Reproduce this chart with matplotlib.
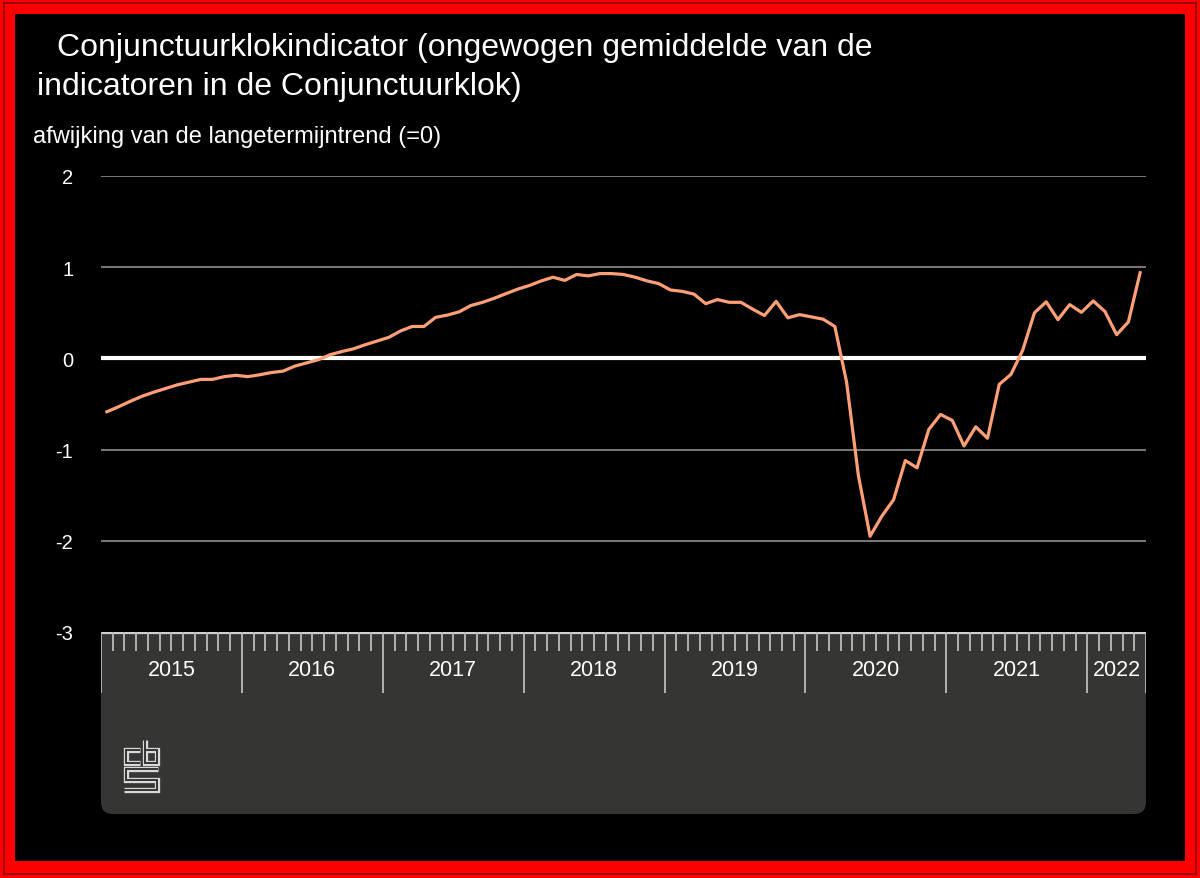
import matplotlib
matplotlib.use("Agg")
import matplotlib.pyplot as plt
import numpy as np
from matplotlib.patches import Rectangle, FancyBboxPatch

plt.rcParams['font.family'] = ['Liberation Sans', 'DejaVu Sans']

# monthly values, Jan 2015 .. May 2022
years = [2015, 2016, 2017, 2018, 2019, 2020, 2021, 2022]
months_per_year = [12, 12, 12, 12, 12, 12, 12, 5]
values = [
    -0.585, -0.53, -0.47, -0.415, -0.37, -0.33, -0.29, -0.26, -0.23, -0.23, -0.20, -0.185,
    -0.20, -0.18, -0.155, -0.14, -0.085, -0.05, -0.015, 0.04, 0.075, 0.105, 0.15, 0.19,
    0.23, 0.30, 0.35, 0.35, 0.45, 0.475, 0.51, 0.58, 0.615, 0.66, 0.71, 0.76,
    0.80, 0.85, 0.89, 0.855, 0.92, 0.905, 0.93, 0.93, 0.92, 0.89, 0.85, 0.82,
    0.75, 0.735, 0.705, 0.60, 0.645, 0.615, 0.615, 0.54, 0.47, 0.625, 0.445, 0.48,
    0.455, 0.43, 0.35, -0.26, -1.28, -1.95, -1.73, -1.55, -1.12, -1.20, -0.78, -0.615,
    -0.68, -0.96, -0.75, -0.875, -0.285, -0.175, 0.09, 0.50, 0.62, 0.425, 0.59, 0.505,
    0.63, 0.515, 0.26, 0.40, 0.94,
]
yticks = [-3, -2, -1, 0, 1, 2]

title1 = "Conjunctuurklokindicator (ongewogen gemiddelde van de"
title2 = "indicatoren in de Conjunctuurklok)"
subtitle = "afwijking van de langetermijntrend (=0)"

W, H = 1200, 879
LINE = '#ff9f76'
BAND = '#353634'
TICK = '#bcbcbc'

fig = plt.figure(figsize=(W / 100, H / 100), dpi=100)


def frac(x0, y0, x1, y1):
    # pixel box (top-left origin) -> figure fraction rect
    return [x0 / W, 1 - y1 / H, (x1 - x0) / W, (y1 - y0) / H]


# background in pixel coordinates
bg = fig.add_axes([0, 0, 1, 1])
bg.set_xlim(0, W)
bg.set_ylim(H, 0)
bg.axis('off')
bg.add_patch(Rectangle((0, 0), W, H, facecolor='#ff0000', edgecolor='none'))
bg.add_patch(Rectangle((4, 4), W - 8, H - 8, fill=False, edgecolor='#8a0000', lw=1.2))
bg.add_patch(Rectangle((15, 15), W - 30, H - 32, facecolor='black', edgecolor='none'))

# grey band under the axis
bg.add_patch(FancyBboxPatch((101, 633), 1045, 182, boxstyle='round,pad=0,rounding_size=12',
                            facecolor=BAND, edgecolor='none'))
bg.add_patch(Rectangle((101, 633), 1045, 100, facecolor=BAND, edgecolor='none'))

# cbs logo
logo_paths = [
    [(140, 750.5), (125.5, 750.5), (125.5, 763.5), (140, 763.5)],
    [(144.5, 741), (144.5, 763.5), (156.5, 763.5), (156.5, 750.5), (144.5, 750.5)],
    [(158, 770.5), (125.5, 770.5), (125.5, 781), (156.5, 781), (156.5, 791.5), (123.5, 791.5)],
]
for p in logo_paths:
    p = np.array(p)
    bg.plot(p[:, 0], p[:, 1], color='#d8d8d8', lw=3.8, solid_joinstyle='miter', solid_capstyle='butt')
    bg.plot(p[:, 0], p[:, 1], color=BAND, lw=1.4, solid_joinstyle='miter', solid_capstyle='butt')

# titles
fig.text(57 / W, 1 - 48 / H, title1, color='white', fontsize=23, va='center', ha='left')
fig.text(37 / W, 1 - 87 / H, title2, color='white', fontsize=23, va='center', ha='left')
fig.text(33 / W, 1 - 137 / H, subtitle, color='white', fontsize=17, va='center', ha='left')

# main plot
n = len(values)
x = np.arange(n) + 0.5
ax = fig.add_axes(frac(101, 177, 1146, 633))
ax.set_facecolor('black')
ax.set_xlim(0, n)
ax.set_ylim(-3, 2)
for s in ax.spines.values():
    s.set_visible(False)
for t in yticks:
    if t in (-3, 0):
        continue
    ax.axhline(t, color='#9a9a9a', lw=1.1, zorder=1)
ax.axhline(0, color='white', lw=3, zorder=2)
ax.plot(x, values, color=LINE, lw=2.3, zorder=3, solid_joinstyle='round')
ax.set_xticks([])
ax.set_yticks(yticks)
ax.set_yticklabels([str(t) for t in yticks])
ax.tick_params(axis='y', length=0, pad=20, labelsize=14.5, labelcolor='white')

# axis band: month ticks, year separators, year labels
band = fig.add_axes(frac(101, 633, 1146, 815))
band.set_xlim(0, n)
band.set_ylim(182, 0)
band.axis('off')
band.patch.set_alpha(0)
band.axhline(0.5, color='#d0d0d0', lw=1.6)
start = 0
for yr, m in zip(years, months_per_year):
    band.vlines(start, 0, 61, color=TICK, lw=1.3)
    band.vlines(np.arange(start + 1, start + m), 0, 19, color=TICK, lw=1.3)
    band.text(start + m / 2, 38, str(yr), color='white', fontsize=15.5, ha='center', va='center')
    start += m
band.vlines(start, 0, 61, color=TICK, lw=1.3)

fig.savefig('out.png', dpi=100, facecolor='black')
